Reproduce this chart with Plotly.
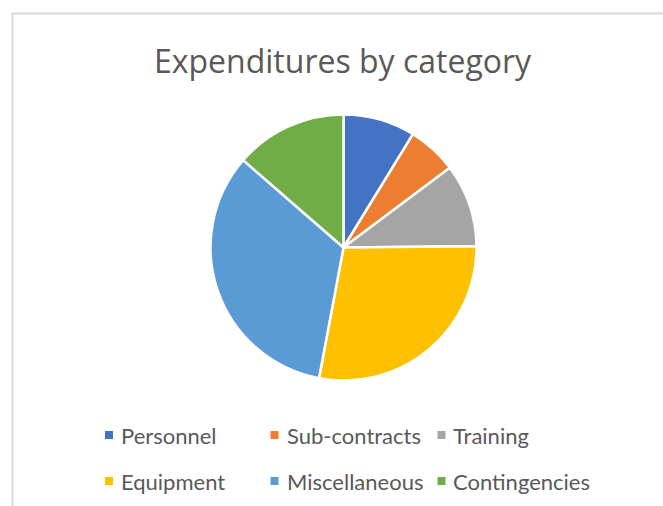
import plotly.graph_objects as go

categories = ["Personnel", "Sub-contracts", "Training", "Equipment", "Miscellaneous", "Contingencies"]
values = [8.75, 6.0, 10.1, 28.1, 33.45, 13.6]
colors = ["#4472C4", "#ED7D31", "#A5A5A5", "#FFC000", "#5B9BD5", "#70AD47"]
title_text = "Expenditures by category"

W, H = 663, 506
def px(x):
    return x / W
def py(y):
    return 1 - y / H

fig = go.Figure()
fig.add_trace(go.Pie(
    labels=categories, values=values, sort=False, direction="clockwise", rotation=0,
    marker=dict(colors=colors, line=dict(color="white", width=2.5)),
    textinfo="none", showlegend=False,
    domain=dict(x=[px(210.5), px(476.5)], y=[py(380.5), py(114.5)]),
))

shapes = [dict(type="rect", xref="paper", yref="paper", x0=px(12.5), y0=-0.05, x1=1.05, y1=py(13.5),
               line=dict(color="#d9d9d9", width=2), fillcolor="rgba(0,0,0,0)")]
annotations = [dict(text=title_text, xref="paper", yref="paper", x=px(343), y=py(61), xanchor="center",
                    yanchor="middle", showarrow=False, font=dict(family="Open Sans", size=32, color="#595959"))]

col_sq = [109, 274.5, 441.5]
col_tx = [119, 285, 451]
row_y = [435, 481]
for i, (cat, col) in enumerate(zip(categories, colors)):
    r, c = divmod(i, 3)
    cx, cy = col_sq[c], row_y[r]
    shapes.append(dict(type="rect", xref="paper", yref="paper", x0=px(cx - 4), x1=px(cx + 4),
                       y0=py(cy + 4), y1=py(cy - 4), fillcolor=col, line=dict(width=0)))
    annotations.append(dict(text=cat, xref="paper", yref="paper", x=px(col_tx[c]), y=py(cy),
                            xanchor="left", yanchor="middle", showarrow=False,
                            font=dict(family="Lato", size=22, color="#595959")))

fig.update_layout(width=W, height=H, margin=dict(l=0, r=0, t=0, b=0),
                  paper_bgcolor="white", plot_bgcolor="white",
                  shapes=shapes, annotations=annotations)
fig.write_html("out.html", config={"displayModeBar": False},
               post_script="document.body.style.margin='0';document.body.style.padding='0';")
